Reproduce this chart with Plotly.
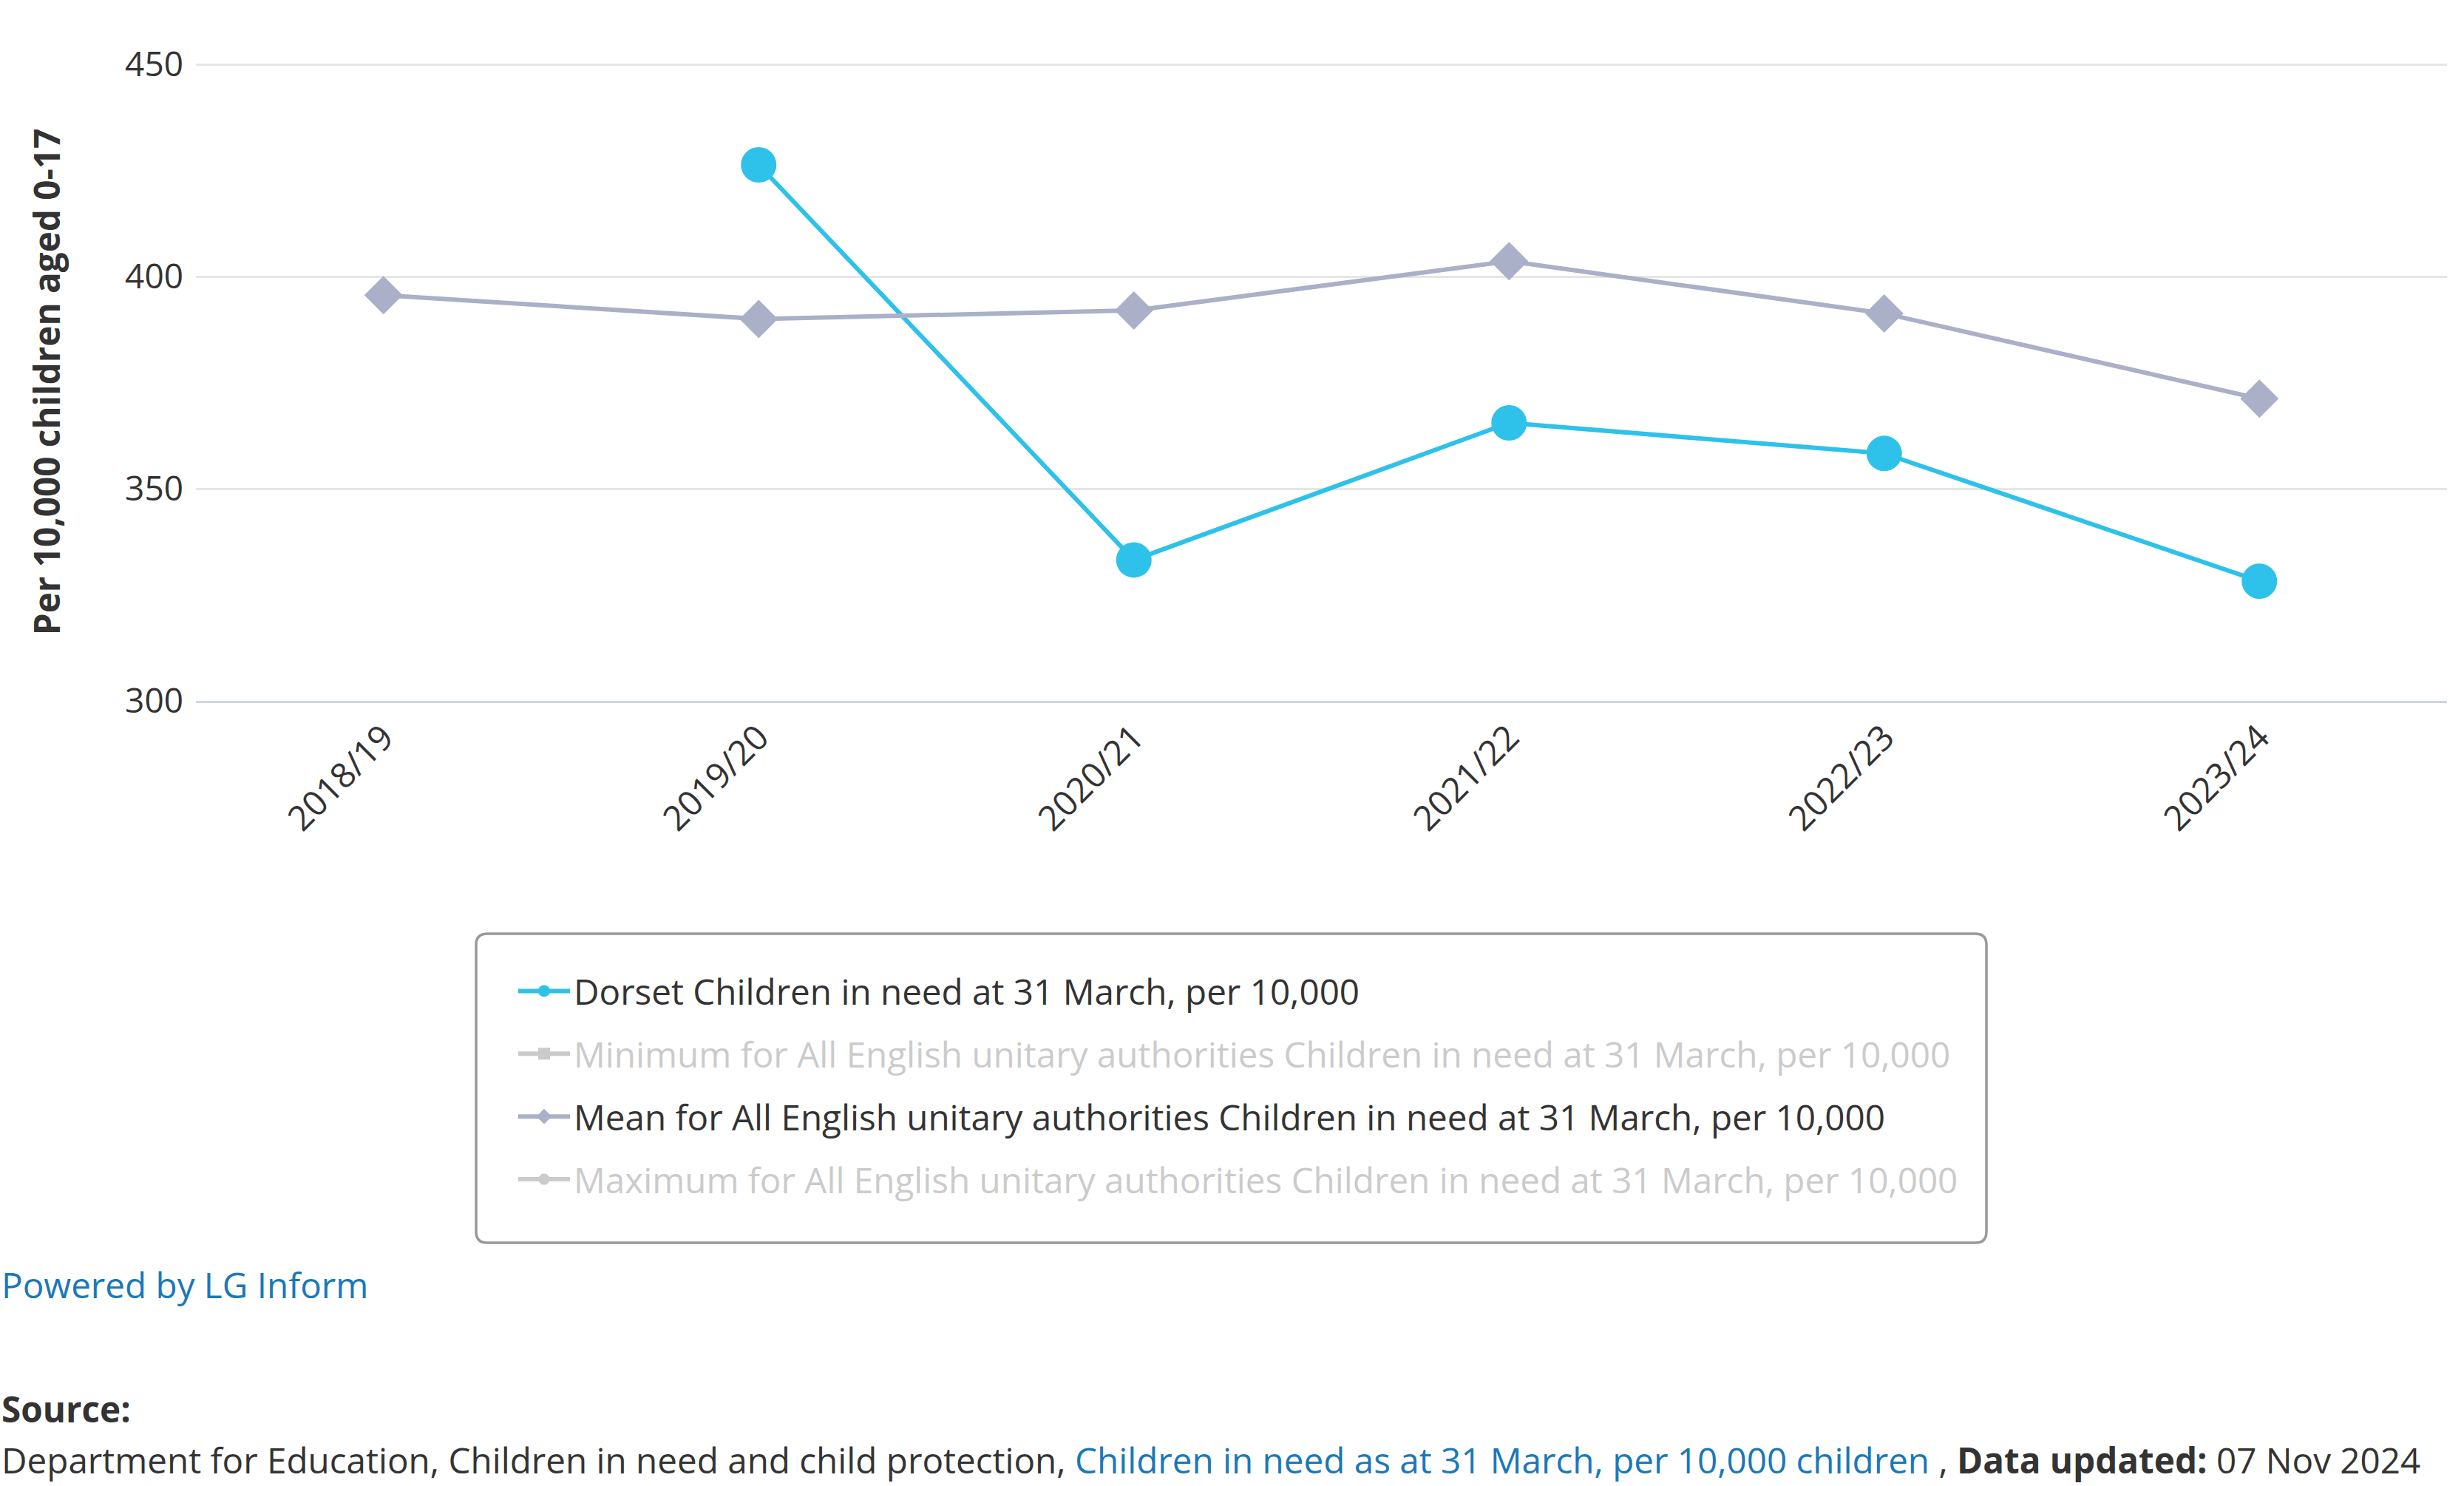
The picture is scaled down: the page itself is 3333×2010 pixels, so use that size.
import plotly.graph_objects as go

categories = ["2018/19", "2019/20", "2020/21", "2021/22", "2022/23", "2023/24"]
dorset = [None, 426.3, 333.2, 365.5, 358.3, 328.2]
mean_ua = [395.6, 390.0, 392.0, 403.6, 391.3, 371.2]
min_ua = [None] * 6
max_ua = [None] * 6

name_dorset = "Dorset Children in need at 31 March, per 10,000"
name_min = "Minimum for All English unitary authorities Children in need at 31 March, per 10,000"
name_mean = "Mean for All English unitary authorities Children in need at 31 March, per 10,000"
name_max = "Maximum for All English unitary authorities Children in need at 31 March, per 10,000"
y_ticks = [300, 350, 400, 450]
y_title = "Per 10,000 children aged 0-17"

W, H = 3333, 2010
ML, MR, MT, MB = 265, 23, 85, 1062
PW, PH = W - ML - MR, H - MT - MB
FONT = "Open Sans"
TXT = "#333333"
LINK = "#1a78b8"
BODY = 47.6


def px_x(px):
    return (px - ML) / PW


def px_y(py):
    return (H - MB - py) / PH


fig = go.Figure()
fig.add_trace(go.Scatter(
    x=categories, y=dorset, name=name_dorset, mode="lines+markers",
    line=dict(color="#2ec1e9", width=6),
    marker=dict(symbol="circle", size=48, color="#2ec1e9"),
    legendgroup="a", connectgaps=False,
))
fig.add_trace(go.Scatter(
    x=categories, y=min_ua, name='<span style="color:#999999">' + name_min + "</span>",
    mode="lines+markers", visible="legendonly",
    line=dict(color="#999999", width=6),
    marker=dict(symbol="square", size=40, color="#999999"),
    legendgroup="b",
))
fig.add_trace(go.Scatter(
    x=categories, y=mean_ua, name=name_mean, mode="lines+markers",
    line=dict(color="#aab0c8", width=6),
    marker=dict(symbol="diamond", size=40, color="#aab0c8"),
    legendgroup="c",
))
fig.add_trace(go.Scatter(
    x=categories, y=max_ua, name='<span style="color:#999999">' + name_max + "</span>",
    mode="lines+markers", visible="legendonly",
    line=dict(color="#999999", width=6),
    marker=dict(symbol="octagon", size=40, color="#999999"),
    legendgroup="d",
))

fig.update_layout(
    width=W, height=H,
    margin=dict(l=ML, r=MR, t=MT, b=MB, autoexpand=False),
    paper_bgcolor="white", plot_bgcolor="white",
    font=dict(family=FONT, size=BODY, color=TXT),
    showlegend=True,
    legend=dict(
        x=px_x(696), xanchor="left", y=px_y(1303), yanchor="top",
        orientation="v", bgcolor="rgba(0,0,0,0)", borderwidth=0,
        font=dict(family=FONT, size=BODY, color=TXT),
        tracegroupgap=20, traceorder="grouped", itemwidth=70,
    ),
    xaxis=dict(
        type="category", categoryorder="array", categoryarray=categories,
        range=[-0.5, len(categories) - 0.5],
        tickangle=-45, showgrid=False, showline=True, linecolor="#ccd6eb", linewidth=3,
        ticks="", tickfont=dict(family=FONT, size=47, color=TXT), zeroline=False,
        automargin=False,
    ),
    yaxis=dict(
        range=[300, 450 + 2 / 5.74], tickvals=y_ticks, showgrid=True, gridcolor="#e6e6e6", gridwidth=3,
        zeroline=False, showline=False, ticks="", ticklabelstandoff=16,
        tickfont=dict(family=FONT, size=46, color=TXT),
        title=dict(text="<b>" + y_title + "</b>", font=dict(family=FONT, size=BODY, color=TXT), standoff=72),
        automargin=False,
    ),
    hovermode=False,
)

# rounded legend frame (decoration)
x0, x1, y0, y1, r = 644, 2687, 1263, 1681, 15


def P(px, py):
    return f"{px_x(px)},{px_y(py)}"


frame = (f"M{P(x0 + r, y0)} L{P(x1 - r, y0)} Q{P(x1, y0)} {P(x1, y0 + r)} "
         f"L{P(x1, y1 - r)} Q{P(x1, y1)} {P(x1 - r, y1)} L{P(x0 + r, y1)} "
         f"Q{P(x0, y1)} {P(x0, y1 - r)} L{P(x0, y0 + r)} Q{P(x0, y0)} {P(x0 + r, y0)} Z")
fig.add_shape(type="path", path=frame, xref="paper", yref="paper",
              line=dict(color="#999999", width=3.5), fillcolor="rgba(0,0,0,0)", layer="below")

annotations = [
    dict(text="Powered by LG Inform", x=px_x(0), y=px_y(1737), xanchor="left", yanchor="middle",
         font=dict(family=FONT, size=BODY, color=LINK)),
    dict(text="<b>Source:</b>", x=px_x(0), y=px_y(1905), xanchor="left", yanchor="middle",
         font=dict(family=FONT, size=BODY, color=TXT)),
    dict(text=("Department for Education, Children in need and child protection, "
               '<span style="color:' + LINK + '">Children in need as at 31 March, per 10,000 children</span>'
               " , <b>Data updated:</b> 07 Nov 2024"),
         x=px_x(0), y=px_y(1975), xanchor="left", yanchor="middle",
         font=dict(family=FONT, size=BODY, color=TXT)),
]
for a in annotations:
    a.update(xref="paper", yref="paper", showarrow=False, align="left")
fig.update_layout(annotations=annotations)

fig.write_html("out.html")
